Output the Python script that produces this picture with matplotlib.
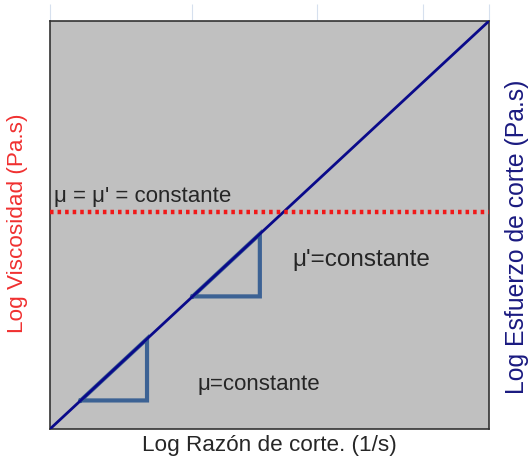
import matplotlib.pyplot as plt

plt.rcParams['font.family'] = ['Liberation Sans', 'DejaVu Sans']

# log shear rate vs log stress (normalised units)
rate = [0.0, 1.0]
stress = [0.0, 1.0]

# constant viscosity level
visc_level = 0.532

# slope triangles along the flow curve: (x0, x1)
tri_lower = (0.070, 0.221)
tri_upper = (0.325, 0.478)

top_ticks = [0.0, 0.323, 0.608, 0.85, 1.0]

labels = {
    "both": "μ = μ' = constante",
    "upper": "μ'=constante",
    "lower": "μ=constante",
}

fig = plt.figure(figsize=(5.3, 4.62), dpi=100)
ax = fig.add_axes([50 / 530, 1 - 429 / 462, 439 / 530, 408 / 462])
ax.set_facecolor('#c0c0c0')
ax.set_xlim(0, 1)
ax.set_ylim(0, 1)

for s in ax.spines.values():
    s.set_color('#333333')
    s.set_linewidth(1.2)

# faint ticks above the frame
ax.set_xticks(top_ticks)
ax.set_yticks([])
ax.tick_params(axis='x', top=True, bottom=False, labeltop=False, labelbottom=False,
               direction='out', length=12, width=0.8, color='#d6e0ee')

# slope triangles
for x0, x1 in (tri_lower, tri_upper):
    ax.plot([x0, x1, x1, x0], [x0, x0, x1, x0], color='#3c6294', lw=3,
            solid_joinstyle='miter', zorder=2)

ax.plot(rate, stress, color='#0a0a8a', lw=2, zorder=3)
ax.axhline(visc_level, color='#f01818', lw=3.2, ls=(0, (0.8, 0.9)), zorder=3)

tkw = dict(color='#262626', va='center')
ax.text(0.008, 0.569, labels["both"], fontsize=16, **tkw)
ax.text(0.553, 0.414, labels["upper"], fontsize=17.5, **tkw)
ax.text(0.336, 0.108, labels["lower"], fontsize=16, **tkw)

fig.text(269 / 530, 1 - 446 / 462, "Log Razón de corte. (1/s)", ha='center', va='center',
         fontsize=16.2, color='#262626')
fig.text(18 / 530, 1 - 223 / 462, "Log Viscosidad (Pa.s)", ha='center', va='center',
         rotation=90, fontsize=16.2, color='#f03030')
fig.text(517 / 530, 1 - 237 / 462, "Log Esfuerzo de corte (Pa.s)", ha='center', va='center',
         rotation=90, fontsize=17.8, color='#1a1a80')

fig.savefig('out.png', dpi=100)
